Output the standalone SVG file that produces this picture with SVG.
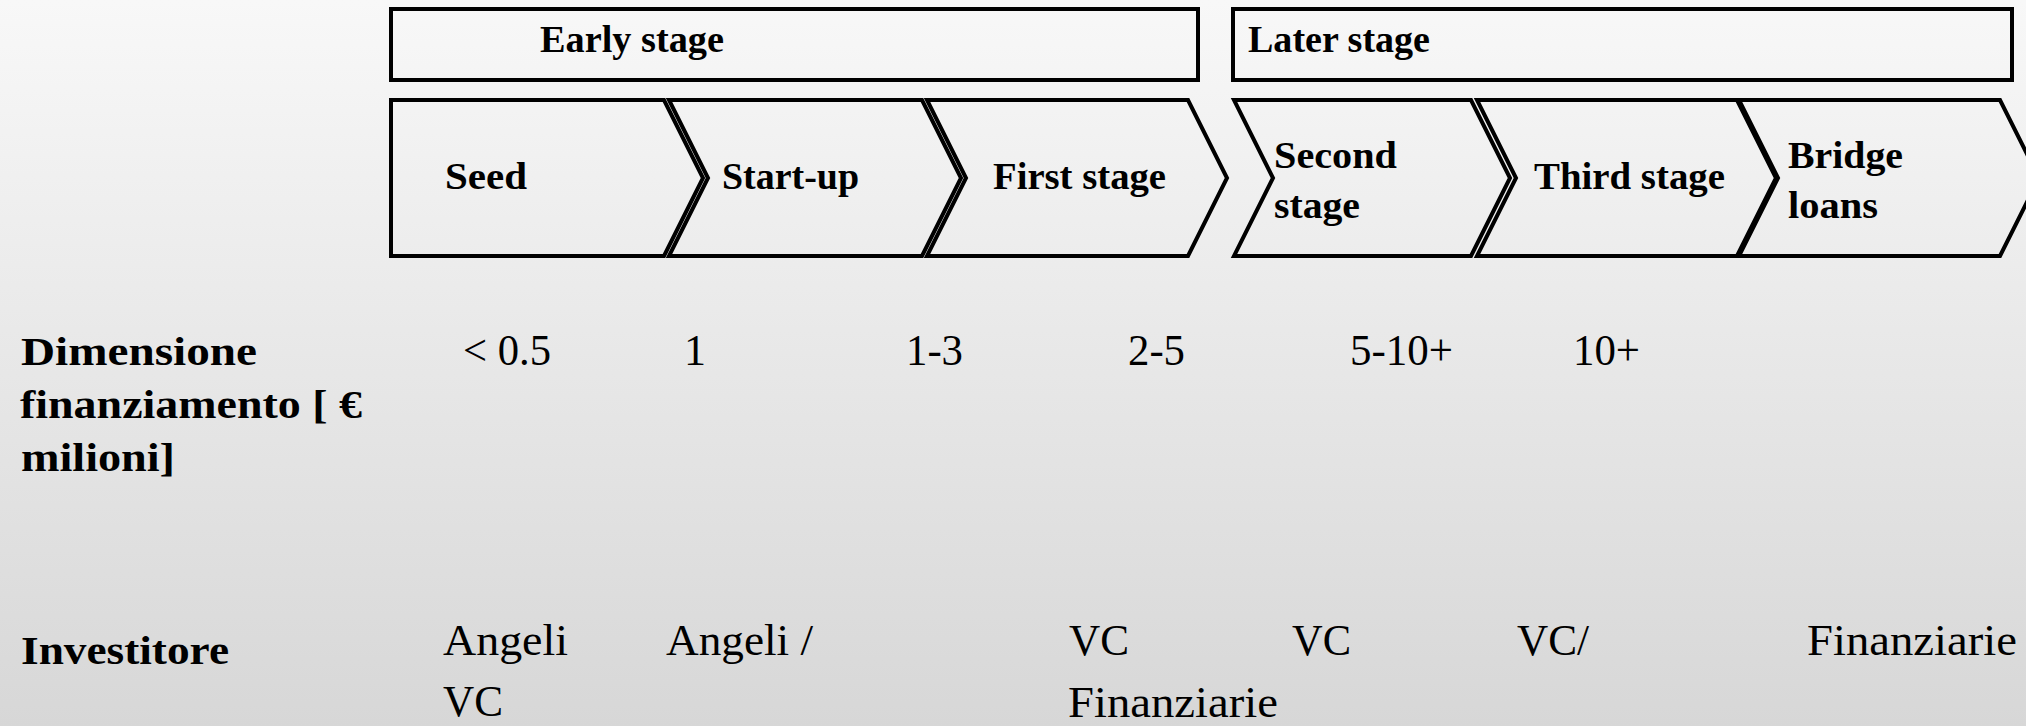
<svg xmlns="http://www.w3.org/2000/svg" width="2026" height="726" viewBox="0 0 2026 726">
<defs>
<linearGradient id="bg" x1="0" y1="0" x2="0" y2="1">
<stop offset="0" stop-color="#f8f8f8"/>
<stop offset="1" stop-color="#d7d7d7"/>
</linearGradient>
</defs>
<style>
.shape{fill:none;stroke:#000;stroke-width:4;stroke-linejoin:miter}
.lb{font-family:"Liberation Serif","Times New Roman",serif;font-weight:bold;font-size:38px;fill:#000}
.rl{font-family:"Liberation Serif","Times New Roman",serif;font-weight:bold;font-size:40px;fill:#000}
.v{font-family:"Liberation Serif","Times New Roman",serif;font-size:44px;fill:#000}
</style>
<rect x="0" y="0" width="2026" height="726" fill="url(#bg)"/>

<g id="early-stage">
<rect class="shape" x="391" y="9" width="807" height="71"/>
<text class="lb" x="540" y="52" textLength="184" lengthAdjust="spacingAndGlyphs">Early stage</text>
</g>
<g id="later-stage">
<rect class="shape" x="1233" y="9" width="779" height="71"/>
<text class="lb" x="1248" y="52" textLength="182" lengthAdjust="spacingAndGlyphs">Later stage</text>
</g>

<g id="seed">
<path class="shape" d="M391,100 H664 L703,178 L664,256 H391 Z"/>
<text class="lb" x="445" y="189" textLength="82" lengthAdjust="spacingAndGlyphs">Seed</text>
</g>
<g id="start-up">
<path class="shape" d="M669,100 H922 L961,178 L922,256 H669 L708,178 Z"/>
<text class="lb" x="722" y="189" textLength="137" lengthAdjust="spacingAndGlyphs">Start-up</text>
</g>
<g id="first-stage">
<path class="shape" d="M927,100 H1188 L1227,178 L1188,256 H927 L966,178 Z"/>
<text class="lb" x="993" y="189" textLength="173" lengthAdjust="spacingAndGlyphs">First stage</text>
</g>
<g id="second-stage">
<path class="shape" d="M1234,100 H1471 L1510,178 L1471,256 H1234 L1273,178 Z"/>
<text class="lb" x="1274" y="168" textLength="123" lengthAdjust="spacingAndGlyphs">Second</text>
<text class="lb" x="1274" y="218" textLength="86" lengthAdjust="spacingAndGlyphs">stage</text>
</g>
<g id="third-stage">
<path class="shape" d="M1477,100 H1737 L1776,178 L1737,256 H1477 L1516,178 Z"/>
<text class="lb" x="1534" y="189" textLength="191" lengthAdjust="spacingAndGlyphs">Third stage</text>
</g>
<g id="bridge-loans">
<path class="shape" d="M1739,100 H2000 L2039,178 L2000,256 H1739 L1778,178 Z"/>
<text class="lb" x="1788" y="168" textLength="115" lengthAdjust="spacingAndGlyphs">Bridge</text>
<text class="lb" x="1788" y="218" textLength="90" lengthAdjust="spacingAndGlyphs">loans</text>
</g>

<g id="row-dimensione">
<text class="rl" x="21" y="365" textLength="236" lengthAdjust="spacingAndGlyphs">Dimensione</text>
<text class="rl" x="20" y="418" textLength="342" lengthAdjust="spacingAndGlyphs">finanziamento [ €</text>
<text class="rl" x="21" y="471" textLength="154" lengthAdjust="spacingAndGlyphs">milioni]</text>
<text class="v" x="463" y="365" textLength="88" lengthAdjust="spacingAndGlyphs">&lt; 0.5</text>
<text class="v" x="684" y="365">1</text>
<text class="v" x="906" y="365" textLength="57" lengthAdjust="spacingAndGlyphs">1-3</text>
<text class="v" x="1128" y="365" textLength="57" lengthAdjust="spacingAndGlyphs">2-5</text>
<text class="v" x="1350" y="365" textLength="103" lengthAdjust="spacingAndGlyphs">5-10+</text>
<text class="v" x="1573" y="365" textLength="67" lengthAdjust="spacingAndGlyphs">10+</text>
</g>

<g id="row-investitore">
<text class="rl" x="21" y="664" textLength="208" lengthAdjust="spacingAndGlyphs">Investitore</text>
<text class="v" x="443" y="655" textLength="125" lengthAdjust="spacingAndGlyphs">Angeli</text>
<text class="v" x="443" y="716" textLength="60" lengthAdjust="spacingAndGlyphs">VC</text>
<text class="v" x="666" y="655" textLength="147" lengthAdjust="spacingAndGlyphs">Angeli /</text>
<text class="v" x="1069" y="655" textLength="60" lengthAdjust="spacingAndGlyphs">VC</text>
<text class="v" x="1068" y="717" textLength="210" lengthAdjust="spacingAndGlyphs">Finanziarie</text>
<text class="v" x="1292" y="655" textLength="59" lengthAdjust="spacingAndGlyphs">VC</text>
<text class="v" x="1517" y="655" textLength="72" lengthAdjust="spacingAndGlyphs">VC/</text>
<text class="v" x="1807" y="655" textLength="210" lengthAdjust="spacingAndGlyphs">Finanziarie</text>
</g>

<g id="connectors"/>
</svg>
